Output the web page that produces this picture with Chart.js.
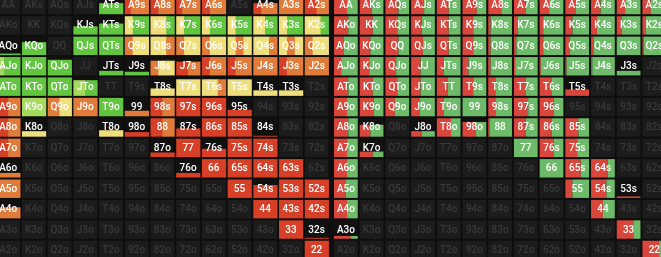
<!DOCTYPE html>
<html>
<head>
<meta charset="utf-8">
<script src="https://cdn.jsdelivr.net/npm/chart.js@4/dist/chart.umd.min.js"></script>
<style>
  html, body { margin: 0; padding: 0; background: #0e0e0e; }
  #wrap { width: 661px; height: 257px; }
</style>
</head>
<body>
<div id="wrap"><canvas id="rangeChart" width="661" height="257"></canvas></div>
<script>
const ranks = ['A','K','Q','J','T','9','8','7','6','5','4','3','2'];

// left range: fill height (0..1) per hand
const leftFreq = [
  [0,0,0,0,.6,1,1,1,1,0,.6,1,1],
  [0,0,0,.45,.6,1,1,1,1,1,1,1,1],
  [.08,.7,0,1,1,1,1,1,1,1,1,1,1],
  [1,1,.85,0,.25,.2,.8,.75,1,1,1,1,1],
  [1,1,1,.85,0,0,.4,.9,.9,.9,.3,.3,0],
  [1,1,1,1,1,.3,1,1,1,.35,0,0,0],
  [1,.3,0,0,.35,.25,1,.45,1,1,.05,0,0],
  [1,0,0,0,0,0,.25,1,.45,1,1,0,0],
  [.25,0,0,0,0,0,0,.25,1,1,1,1,0],
  [1,0,0,0,0,0,0,0,0,1,.7,1,1],
  [.6,0,0,0,0,0,0,0,0,0,1,1,1],
  [0,0,0,0,0,0,0,0,0,0,0,1,.05],
  [0,0,0,0,0,0,0,0,0,0,0,0,1]
];

// left range: action mix, one letter per equal-width slice
const leftMix = [
  ['','','','','g','rooo','roo','rooo','roo','','roo','o','ro'],
  ['','','','g','g','ygg','yyg','ygg','ygg','ygg','yg','ygg','yyg'],
  ['g','g','','g','g','oyy','yyo','oyy','oyy','yoy','yyo','yoy','oyy'],
  ['lgg','g','g','','g','g','oyy','ro','roo','roo','o','roo','oo'],
  ['g','g','g','lg','','','y','y','yyo','y','y','y',''],
  ['ro','l','oy','o','g','o','ro','r','r','r','','',''],
  ['ro','y','','','y','r','ro','r','r','r','r','',''],
  ['ro','','','','','','r','r','r','r','r','',''],
  ['o','','','','','','','r','r','r','r','r',''],
  ['o','','','','','','','','','r','r','r','r'],
  ['o','','','','','','','','','','r','r','r'],
  ['','','','','','','','','','','','r','r'],
  ['','','','','','','','','','','','','r']
];

// right range: fill height and share of the red action
const rightFreq = [
  [1,1,1,1,1,1,1,1,1,1,1,1,1],
  [1,1,1,1,1,1,1,1,1,1,1,1,1],
  [1,1,1,1,1,1,1,1,1,1,1,1,1],
  [1,1,1,1,1,1,1,1,1,1,1,.25,0],
  [1,1,1,1,1,1,1,1,1,.35,0,0,0],
  [1,1,1,1,1,1,1,1,1,0,0,0,0],
  [1,.65,0,.3,1,.8,1,1,1,1,0,0,0],
  [1,.3,0,0,0,0,0,1,1,1,0,0,0],
  [1,0,0,0,0,0,0,0,1,1,1,0,0],
  [1,0,0,0,0,0,0,0,0,1,1,.08,0],
  [1,0,0,0,0,0,0,0,0,0,1,0,0],
  [.15,0,0,0,0,0,0,0,0,0,0,1,0],
  [0,0,0,0,0,0,0,0,0,0,0,0,1]
];

const rightRed = [
  [.55,.5,.55,.55,.5,.6,.55,.5,.4,.45,.4,.35,.35],
  [.6,.55,.5,.45,.5,.45,.1,.15,.15,.3,.25,.2,.15],
  [.4,.45,.55,.5,.5,.45,.1,.1,.15,.2,.1,0,.05],
  [.3,.4,.45,.4,.3,.25,.1,.05,.05,.05,.05,0,0],
  [.6,.55,.5,.4,.45,.45,.3,.5,.5,1,0,0,0],
  [.55,.6,.4,.35,.3,0,.3,.6,.6,0,0,0,0],
  [.6,.45,0,.45,.6,.55,.05,.5,.5,.55,0,0,0],
  [.55,.55,0,0,0,0,0,0,.6,.5,0,0,0],
  [.55,0,0,0,0,0,0,0,0,.65,.7,0,0],
  [.5,0,0,0,0,0,0,0,0,.3,.65,1,0],
  [.55,0,0,0,0,0,0,0,0,0,.5,0,0],
  [.7,0,0,0,0,0,0,0,0,0,0,.7,0],
  [0,0,0,0,0,0,0,0,0,0,0,0,.7]
];

const mixColors = { g: '#62c540', l: '#a5da5f', y: '#efdf7c', o: '#e07b3a', r: '#d73f27' };
const RED = '#d9463c', GREEN = '#6dbb69';
const RIGHT_OFFSET = 13.14;

function handLabel(r, c) {
  if (r === c) return ranks[r] + ranks[r];
  return c > r ? ranks[r] + ranks[c] + 's' : ranks[c] + ranks[r] + 'o';
}

// one point per cell, the plugin below paints the cell around it
const leftCells = [], rightCells = [];
for (let r = 0; r < 13; r++) {
  for (let c = 0; c < 13; c++) {
    leftCells.push({ x: c + 0.5, y: r + 0.5, hand: handLabel(r, c), freq: leftFreq[r][c], mix: leftMix[r][c] });
    rightCells.push({ x: RIGHT_OFFSET + c + 0.5, y: r + 0.5, hand: handLabel(r, c), freq: rightFreq[r][c], red: rightRed[r][c] });
  }
}

const cellPlugin = {
  id: 'cells',
  beforeDatasetsDraw(chart) {
    const { ctx, scales: { x, y } } = chart;
    ctx.save();
    chart.data.datasets.forEach(ds => {
      ds.data.forEach(d => {
        const x0 = x.getPixelForValue(d.x - 0.5) + 1;
        const x1 = x.getPixelForValue(d.x + 0.5) - 1;
        const y0 = y.getPixelForValue(d.y - 0.5) + 1;
        const y1 = y.getPixelForValue(d.y + 0.5) - 1;
        const w = x1 - x0, h = y1 - y0;
        const played = d.freq > 0;
        ctx.fillStyle = played ? '#111111' : '#1c1c1c';
        ctx.fillRect(x0, y0, w, h);
        if (played) {
          const fh = h * d.freq;
          const top = y1 - fh;
          if (ds.kind === 'left') {
            const n = d.mix.length;
            for (let k = 0; k < n; k++) {
              ctx.fillStyle = mixColors[d.mix[k]];
              ctx.fillRect(x0 + k * w / n, top, w / n + 0.5, fh);
            }
          } else {
            ctx.fillStyle = RED;
            ctx.fillRect(x0, top, w * d.red, fh);
            ctx.fillStyle = GREEN;
            ctx.fillRect(x0 + w * d.red, top, w * (1 - d.red), fh);
          }
        }
        ctx.font = '500 10px Roboto, "Noto Sans", sans-serif';
        ctx.textAlign = 'center';
        ctx.textBaseline = 'middle';
        ctx.fillStyle = played ? '#ffffff' : '#3a3a3a';
        ctx.fillText(d.hand, (x0 + x1) / 2, (y0 + y1) / 2 + 0.5);
      });
    });
    ctx.restore();
  }
};

new Chart(document.getElementById('rangeChart').getContext('2d'), {
  type: 'scatter',
  data: {
    datasets: [
      { kind: 'left', data: leftCells, pointRadius: 0, pointHoverRadius: 0 },
      { kind: 'right', data: rightCells, pointRadius: 0, pointHoverRadius: 0 }
    ]
  },
  options: {
    responsive: false,
    animation: false,
    devicePixelRatio: 1,
    layout: { padding: 0, autoPadding: false },
    scales: {
      x: { type: 'linear', min: 0.183, max: 25.9, display: false },
      y: { type: 'linear', min: 0.255, max: 12.845, reverse: true, display: false }
    },
    plugins: { legend: { display: false }, tooltip: { enabled: false } }
  },
  plugins: [cellPlugin]
});
</script>
</body>
</html>
